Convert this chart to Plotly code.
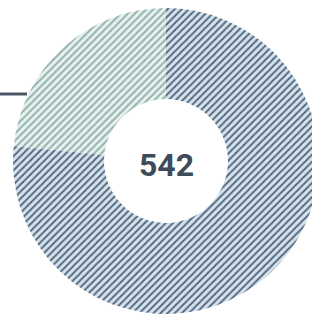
import plotly.graph_objects as go

categories = ["Segment B", "Segment A"]
values = [415, 127]
total_label = "542"

W, H = 330, 314
cx, cy, r = 166, 161, 153

fig = go.Figure(go.Pie(
    labels=categories,
    values=values,
    hole=0.405,
    sort=False,
    direction="clockwise",
    rotation=0,
    textinfo="none",
    hoverinfo="label+value",
    showlegend=False,
    marker=dict(
        colors=["#d9e2ea", "#eaf0ef"],
        line=dict(width=0),
        pattern=dict(
            shape="/",
            fgcolor=["#4f6b84", "#8fb4ad"],
            bgcolor=["#d9e2ea", "#eaf0ef"],
            size=5,
            solidity=0.4,
            fillmode="replace",
        ),
    ),
    domain=dict(x=[(cx - r) / W, (cx + r) / W], y=[(H - cy - r) / H, (H - cy + r) / H]),
))

fig.add_annotation(
    text=f"<b>{total_label}</b>", x=cx / W, y=(H - cy - 4) / H, xref="paper", yref="paper",
    showarrow=False, font=dict(family="Roboto", size=32, color="#3f4b5b"),
)

fig.add_shape(type="line", xref="paper", yref="paper",
              x0=0, x1=27 / W, y0=(H - 94) / H, y1=(H - 94) / H,
              line=dict(color="#4a5566", width=3))

fig.update_layout(
    width=W, height=H, autosize=False,
    margin=dict(l=0, r=0, t=0, b=0),
    paper_bgcolor="white", plot_bgcolor="white",
)

fig.write_html("out.html", config={"displayModeBar": False},
               post_script="document.body.style.margin='0';document.body.style.overflow='hidden';document.documentElement.style.overflow='hidden';")
